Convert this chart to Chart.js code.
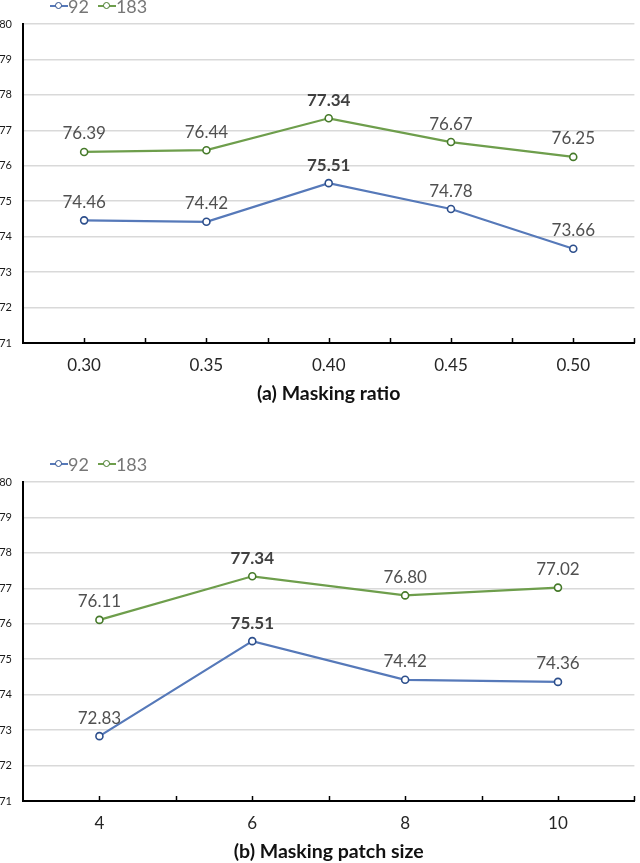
<!DOCTYPE html>
<html>
<head>
<meta charset="utf-8">
<script src="https://cdn.jsdelivr.net/npm/chart.js@4.4.1/dist/chart.umd.min.js"></script>
<style>
  html, body { margin: 0; padding: 0; background: #fff; }
  body { width: 640px; height: 863px; position: relative; overflow: hidden; font-family: 'Lato', sans-serif; }
  .box { position: absolute; left: 0; width: 640px; }
  .legend { position: absolute; left: 50px; top: -5px; height: 22px; display: flex; align-items: center; font-family: 'Lato', sans-serif; font-size: 18px; color: #767676; }
  .item { display: flex; align-items: center; margin-right: 9px; }
  .mk { position: relative; width: 18px; height: 10px; }
  .mk .ln { position: absolute; left: 0; right: 0; top: 4px; height: 2px; }
  .mk .ci { position: absolute; left: 5px; top: 1px; width: 5px; height: 5px; border-radius: 50%; border: 1.5px solid; background: #fff; }
</style>
</head>
<body>
<div class="box" id="boxA" style="top:0;height:458px;">
  <canvas id="chartA"></canvas>
  <div class="legend" id="legA"></div>
</div>
<div class="box" id="boxB" style="top:458px;height:405px;">
  <canvas id="chartB"></canvas>
  <div class="legend" id="legB"></div>
</div>
<script>
// ---- data ----
const seriesNames = ['92', '183'];
const ratioLabels = ['0.30', '0.35', '0.40', '0.45', '0.50'];
const ratio92 = [74.46, 74.42, 75.51, 74.78, 73.66];
const ratio183 = [76.39, 76.44, 77.34, 76.67, 76.25];
const patchLabels = ['4', '6', '8', '10'];
const patch92 = [72.83, 75.51, 74.42, 74.36];
const patch183 = [76.11, 77.34, 76.80, 77.02];
const yTicks = [71, 72, 73, 74, 75, 76, 77, 78, 79, 80];
const titleA = '(a) Masking ratio';
const titleB = '(b) Masking patch size';

// ---- styles ----
const FONT = 'Lato';
const lineColors = ['#5679b9', '#6e9e4c'];
const markColors = ['#2d4f8c', '#467a2a'];

function toPoints(arr) { return arr.map((v, i) => ({ x: i, y: v })); }

const valueLabels = {
  id: 'valueLabels',
  afterDatasetsDraw(chart) {
    const ctx = chart.ctx;
    chart.data.datasets.forEach((ds, di) => {
      const meta = chart.getDatasetMeta(di);
      const vals = ds.data.map(p => p.y);
      const mx = Math.max(...vals);
      meta.data.forEach((pt, i) => {
        const v = vals[i];
        ctx.save();
        ctx.font = (v === mx ? 'bold ' : '') + '17px ' + FONT;
        ctx.fillStyle = v === mx ? '#404040' : '#505050';
        ctx.textAlign = 'center';
        ctx.textBaseline = 'middle';
        ctx.fillText(v.toFixed(2), pt.x, pt.y - 18);
        ctx.restore();
      });
    });
  }
};

const innerTicks = {
  id: 'innerTicks',
  afterDraw(chart) {
    const sx = chart.scales.x;
    const ctx = chart.ctx;
    ctx.save();
    ctx.strokeStyle = '#000';
    ctx.lineWidth = 1.5;
    sx.ticks.forEach((t, i) => {
      if (i === 0) return;
      const x = Math.min(Math.round(sx.getPixelForValue(t.value)) + 0.5, chart.width - 1.5);
      ctx.beginPath();
      ctx.moveTo(x, sx.top - 5);
      ctx.lineTo(x, sx.top);
      ctx.stroke();
    });
    ctx.restore();
  }
};

function buildLegend(el) {
  seriesNames.forEach((n, i) => {
    const it = document.createElement('div');
    it.className = 'item';
    it.innerHTML = '<div class="mk"><div class="ln" style="background:' + lineColors[i] + '"></div><div class="ci" style="border-color:' + markColors[i] + '"></div></div><span>' + n + '</span>';
    el.appendChild(it);
  });
}

function makeChart(canvasId, labels, s1, s2, title, padBottom) {
  const n = labels.length;
  return new Chart(document.getElementById(canvasId), {
    type: 'line',
    data: {
      datasets: [s1, s2].map((arr, i) => ({
        label: seriesNames[i],
        data: toPoints(arr),
        borderColor: lineColors[i],
        borderWidth: 2.25,
        pointRadius: 3.5,
        pointBorderWidth: 1.6,
        pointBorderColor: markColors[i],
        pointBackgroundColor: '#ffffff',
        tension: 0,
        fill: false
      }))
    },
    options: {
      responsive: true,
      maintainAspectRatio: false,
      animation: false,
      layout: { padding: { top: 24, right: 0, left: 0, bottom: padBottom } },
      plugins: { legend: { display: false }, tooltip: { enabled: false } },
      scales: {
        x: {
          type: 'linear',
          min: -0.5,
          max: n - 0.5,
          afterBuildTicks(scale) {
            const t = [];
            for (let k = 0; k <= 2 * n; k++) t.push({ value: -0.5 + k * 0.5 });
            scale.ticks = t;
          },
          afterFit(scale) { scale.height = 62; scale.paddingLeft = 0; scale.paddingRight = 0; },
          ticks: {
            autoSkip: false,
            maxRotation: 0,
            padding: 12,
            color: '#262626',
            font: { family: FONT, size: 17 },
            callback(v) { return Number.isInteger(v) ? labels[v] : ''; }
          },
          grid: { drawOnChartArea: false, drawTicks: false },
          border: { color: '#000', width: 2 },
          title: {
            display: true,
            text: title,
            color: '#111',
            font: { family: FONT, size: 19.5, weight: 'bold' },
            padding: { top: 8, bottom: 0 }
          }
        },
        y: {
          min: 71,
          max: 80,
          afterBuildTicks(scale) { scale.ticks = yTicks.map(v => ({ value: v })); },
          afterFit(scale) { scale.width = 23; },
          ticks: {
            padding: 11,
            color: '#1a1a1a',
            font: { family: FONT, size: 11 }
          },
          grid: { color: '#d9d9d9', lineWidth: 1.5, drawTicks: false },
          border: { color: '#000', width: 2 }
        }
      }
    },
    plugins: [valueLabels, innerTicks]
  });
}

buildLegend(document.getElementById('legA'));
buildLegend(document.getElementById('legB'));
makeChart('chartA', ratioLabels, ratio92, ratio183, titleA, 53);
makeChart('chartB', patchLabels, patch92, patch183, titleB, 0);
</script>
</body>
</html>
